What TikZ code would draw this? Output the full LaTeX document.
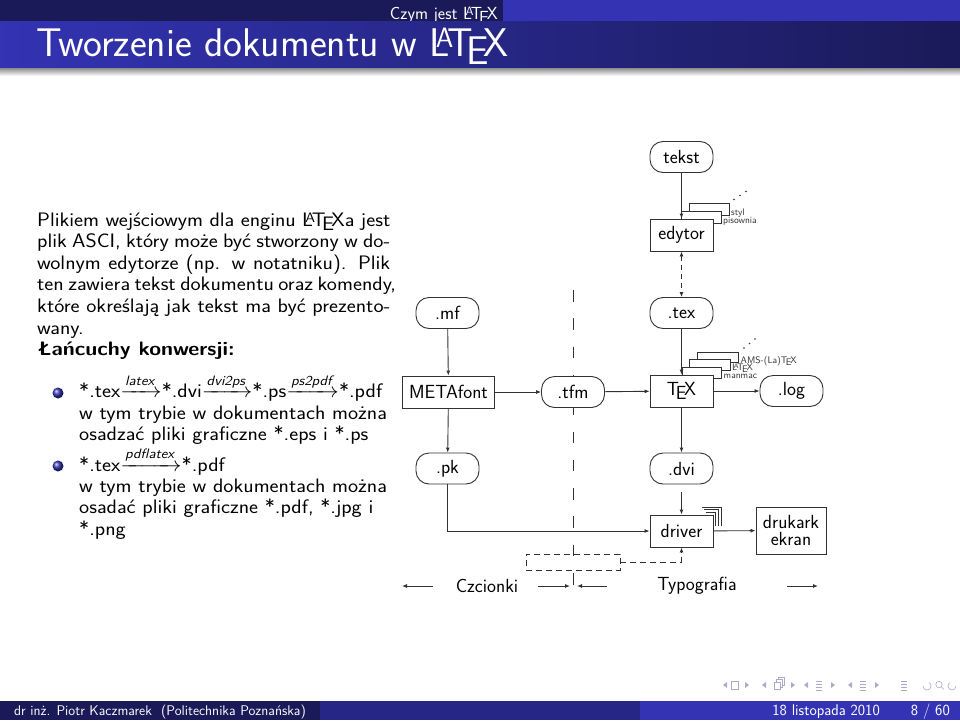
\documentclass[tikz,border=0pt]{standalone}
\usepackage{amsmath}
\usepackage{graphicx}
\usetikzlibrary{arrows.meta,shapes.misc,shadings,calc}
\definecolor{bstruct}{RGB}{51,51,179}
\definecolor{bter}{RGB}{26,26,89}
\definecolor{bsec}{RGB}{38,38,134}
\definecolor{navc}{RGB}{170,170,205}
\definecolor{ln}{RGB}{50,50,50}
\newcommand\bodyfont{\fontsize{19.5}{21.6}\selectfont\sffamily}
\newcommand\dgfont{\fontsize{19}{21}\selectfont\sffamily}
\newcommand\tinyfont{\fontsize{9.5}{10}\selectfont\sffamily}
\newcommand\hx[1]{\scalebox{1.1}[1]{#1}}
\begin{document}
\begin{tikzpicture}[x=1pt,y=-1pt,
  lnk/.style={draw=ln, line width=0.9pt, -{Latex[length=5pt,width=4pt]}},
  rnd/.style={draw=ln, line width=0.9pt, fill=white, rounded corners=13pt, minimum width=63pt, minimum height=31pt, inner xsep=7pt, font=\dgfont},
  sq/.style={draw=ln, line width=0.9pt, fill=white, minimum width=63pt, minimum height=32pt, inner xsep=7pt, font=\dgfont},
  pagebox/.style={draw=ln, line width=0.7pt, fill=white},
  tinylab/.style={font=\tinyfont, inner sep=0pt, anchor=west, text=ln},
  txt/.style={anchor=base west, inner sep=0pt, font=\bodyfont},
  navl/.style={draw=navc, line width=0.6pt},
]
\useasboundingbox (0,0) rectangle (960,720);
\fill[white] (0,0) rectangle (960,720);

% ---------- header ----------
\fill[bter] (0,0) rectangle (503,21);
\fill[bstruct] (503,0) rectangle (960,21);
\begin{scope}
\clip (0,0) rectangle (503,21);
\node[anchor=base east, inner sep=0pt, text=white, font=\fontsize{17.5}{18}\selectfont\sffamily] (sect) at (498,19.5) {Czym jest \LaTeX};
\end{scope}
\shade[left color=bstruct, right color=bter] (0,21) rectangle (960,68);
\shade[top color=black!45, bottom color=white] (0,68) rectangle (960,76);
\node[anchor=base west, inner sep=0pt, text=white, font=\fontsize{40}{42}\selectfont\sffamily] (title) at (36,56) {Tworzenie dokumentu w \LaTeX};

% ---------- footer ----------
\fill[bter] (0,701) rectangle (320,720);
\fill[bsec] (320,701) rectangle (640,720);
\fill[bstruct] (640,701) rectangle (960,720);
\node[anchor=base, inner sep=0pt, text=white, font=\fontsize{14}{15}\selectfont\sffamily] (author) at (160,715) {dr inż. Piotr Kaczmarek \ (Politechnika Poznańska)};
\node[anchor=base east, inner sep=0pt, text=white, font=\fontsize{15.5}{16}\selectfont\sffamily] (date) at (880,715) {18 listopada 2010};
\node[anchor=base east, inner sep=0pt, text=white, font=\fontsize{15.5}{16}\selectfont\sffamily] (pg) at (950,715) {8 / 60};

% ---------- navigation symbols ----------
\foreach \x in {723,762,804,848} \fill[navc] (\x,685) -- (\x+4,682) -- (\x+4,688) -- cycle;
\foreach \x in {749,795,835,879} \fill[navc] (\x,685) -- (\x-4,682) -- (\x-4,688) -- cycle;
\draw[navl] (731,681) rectangle (738,689);
\draw[navl] (774,682) rectangle (780,689);
\draw[navl] (776,682) -- (776,679.5) -- (782,679.5) -- (782,687) -- (780,687);
\draw[navl] (778,680) -- (778,677.5) -- (784,677.5) -- (784,685) -- (782,685);
\foreach \x in {818.5,863,904} {
  \draw[navl] (\x-3,681) -- (\x+3,681);
  \draw[navl] (\x-3,684) -- (\x+3,684);
  \draw[navl] (\x-3,687) -- (\x+3,687);
  \draw[navl] (\x-3,690) -- (\x+3,690);
}
\draw[navl] (923,686) arc (180:-60:4);
\draw[navl] (939,684.5) circle (3.2); \draw[navl] (941.3,686.8) -- (944,689.5);
\draw[navl] (956,686) arc (0:240:4);

% ---------- left text ----------
\node[txt] (p1) at (37,226) {\hx{\makebox[321pt][s]{Plikiem wejściowym dla enginu \LaTeX a jest}}};
\node[txt] (p2) at (37,247.6) {\hx{\makebox[321pt][s]{plik ASCI, który może być stworzony w do-}}};
\node[txt] (p3) at (37,269.2) {\hx{\makebox[321pt][s]{wolnym edytorze (np. w notatniku). Plik}}};
\node[txt] (p4) at (37,290.8) {\hx{\makebox[321pt][s]{ten zawiera tekst dokumentu oraz komendy,}}};
\node[txt] (p5) at (37,312.4) {\hx{\makebox[321pt][s]{które określają jak tekst ma być prezento-}}};
\node[txt] (p6) at (37,334) {\hx{wany.}};
\node[txt, font=\bodyfont\bfseries] (p7) at (37,355.6) {\hx{Łańcuchy konwersji:}};

\shade[ball color=bstruct] (58,393) circle (5.5);
\shade[ball color=bstruct] (58,466) circle (5.5);
\node[txt] (i1) at (79,397.7) {\hx{*.tex$\xrightarrow{\text{\itshape latex}}$*.dvi$\xrightarrow{\text{\itshape dvi2ps}}$*.ps$\xrightarrow{\text{\itshape ps2pdf}}$*.pdf}};
\node[txt] (i2) at (79,419.3) {\hx{w tym trybie w dokumentach można}};
\node[txt] (i3) at (79,440.9) {\hx{osadzać pliki graficzne *.eps i *.ps}};
\node[txt] (j1) at (79,471) {\hx{*.tex$\xrightarrow{\text{\itshape pdflatex}}$*.pdf}};
\node[txt] (j2) at (79,492) {\hx{w tym trybie w dokumentach można}};
\node[txt] (j3) at (79,513.6) {\hx{osadać pliki graficzne *.pdf, *.jpg i}};
\node[txt] (j4) at (79,535.2) {\hx{*.png}};

% ---------- diagram: background pieces ----------
\coordinate (vtop) at (573,290);
\coordinate (vbot) at (573,591);
\draw[ln, line width=0.9pt, dash pattern=on 11.5pt off 16.8pt] (vtop) -- (vbot);

% pages behind edytor
\draw[pagebox] (689,203) rectangle (729,215);
\draw[pagebox] (681,211) rectangle (721,223);
\node[tinylab] (styl) at (731,213) {styl};
\node[tinylab] (pis) at (723,221) {pisownia};
\foreach \p in {(734,199.5),(740,195.5),(746,191.5)} \fill[ln] \p circle (0.8);

% pages behind TeX
\draw[pagebox] (697,352) rectangle (738,362.5);
\draw[pagebox] (689.5,359.5) rectangle (730,370);
\draw[pagebox] (682,367) rectangle (721.5,378);
\node[tinylab] (ams) at (740.5,361) {AMS-(La)\TeX};
\node[tinylab] (ltx) at (732,368.5) {\LaTeX};
\node[tinylab] (manmac) at (723.5,376) {manmac};
\foreach \p in {(744,348),(749.5,343.5),(755,339)} \fill[ln] \p circle (0.8);

% driver corner marks
\draw[ln, line width=0.7pt] (706,512.3) -- (715.7,512.3) -- (715.7,526);
\draw[ln, line width=0.7pt] (704,509.6) -- (718.4,509.6) -- (718.4,526);
\draw[ln, line width=0.7pt] (702,506.9) -- (721.1,506.9) -- (721.1,526);

% ---------- diagram: nodes ----------
\node[rnd] (tekst) at (681.5,157) {tekst};
\node[sq] (edytor) at (681.5,235) {edytor};
\node[rnd] (tex) at (681.5,313) {.tex};
\node[rnd] (mf) at (447.5,313) {.mf};
\node[sq] (metafont) at (448.5,392) {METAfont};
\node[rnd] (tfm) at (573,392) {.tfm};
\node[sq] (texbox) at (681.5,391) {\TeX};
\node[rnd] (log) at (791.5,391) {.log};
\node[rnd] (pk) at (447.5,468.5) {.pk};
\node[rnd] (dvi) at (681.5,468.5) {.dvi};
\node[sq] (driver) at (681.5,531) {driver};
\node[sq, align=center, minimum height=47pt, font=\fontsize{19}{17.5}\selectfont\sffamily] (druk) at (791,530.5) {drukark\\ekran};
\node[draw=ln, line width=0.9pt, dash pattern=on 6pt off 4pt, minimum width=94pt, minimum height=16pt, inner sep=0pt] (fbox) at (573,562) {};

% ---------- connectors ----------
\draw[lnk] (tekst) -- (edytor);
\draw[ln, line width=0.9pt, dash pattern=on 5pt off 4pt, {Latex[length=5pt,width=4pt]}-{Latex[length=5pt,width=4pt]}] (edytor) -- (tex);
\draw[lnk] (tex) -- (texbox);
\draw[lnk] (mf) -- (metafont);
\draw[lnk] (metafont) -- (tfm);
\draw[lnk] (tfm) -- (texbox);
\draw[lnk] (metafont) -- (pk);
\draw[lnk] (texbox) -- (dvi);
\draw[lnk] (texbox) -- (log);
\draw[lnk, shorten <=8pt] (dvi) -- (driver);
\draw[lnk] (pk.south) |- (driver.west);
\draw[lnk] (driver) -- (druk);
\draw[lnk, dash pattern=on 6pt off 4pt] (fbox.east) -| (driver.south);

% ---------- bottom legend ----------
\node[anchor=center, inner sep=0pt, font=\dgfont] (czc) at (487,586) {Czcionki};
\node[anchor=center, inner sep=0pt, font=\dgfont] (typo) at (697,586) {Typografia};
\coordinate (a1s) at (433,586); \coordinate (a1e) at (402,586);
\coordinate (a2s) at (538,586); \coordinate (a2e) at (570,586);
\coordinate (a3s) at (607,586); \coordinate (a3e) at (577,586);
\coordinate (a4s) at (787,586); \coordinate (a4e) at (818,586);
\draw[lnk] (a1s) -- (a1e);
\draw[lnk] (a2s) -- (a2e);
\draw[lnk] (a3s) -- (a3e);
\draw[lnk] (a4s) -- (a4e);
\end{tikzpicture}
\end{document}
